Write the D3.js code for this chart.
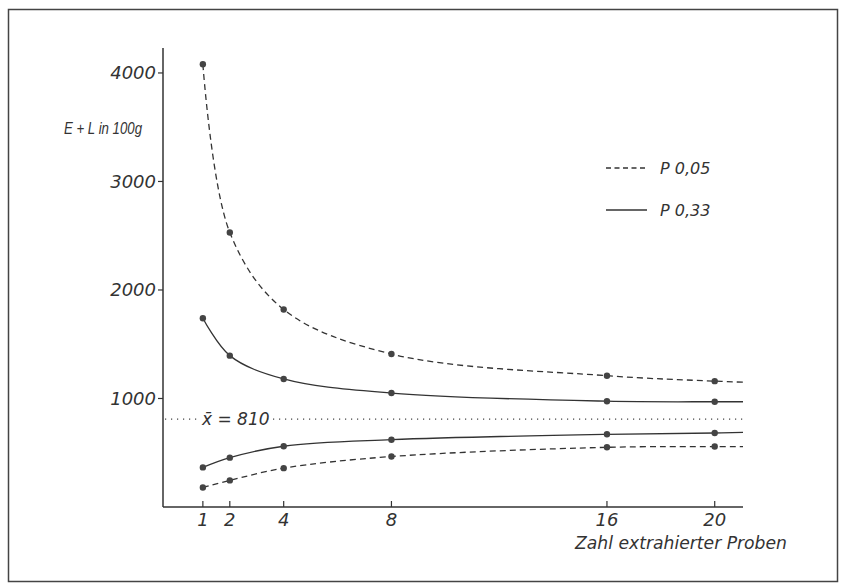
<!DOCTYPE html>
<html>
<head>
<meta charset="utf-8">
<script src="https://cdn.jsdelivr.net/npm/d3@7"></script>
<style>
  body { margin: 0; background: #fff; }
  text { font-family: "DejaVu Sans", sans-serif; font-style: italic; fill: #333; }
</style>
</head>
<body>
<svg width="841" height="584"></svg>
<script>
// sample counts on the x axis
var proben = [1, 2, 4, 8, 16, 20];
// confidence bands (E + L in 100g)
var upper05 = [4080, 2530, 1820, 1410, 1210, 1160];
var upper33 = [1740, 1395, 1180, 1050, 975, 970];
var lower33 = [365, 455, 560, 620, 670, 682];
var lower05 = [180, 245, 358, 465, 550, 557];
// where each curve runs out at the right end of the axis
var endX = 21.05;
var endValues = [1150, 970, 688, 557];
var mean = 810;
var yTicks = [1000, 2000, 3000, 4000];
var legendLabels = ["P 0,05", "P 0,33"];

var svg = d3.select("svg");

// frame
svg.append("rect")
    .attr("x", 8.5).attr("y", 9.5)
    .attr("width", 829).attr("height", 572)
    .attr("fill", "none")
    .attr("stroke", "#444")
    .attr("stroke-width", 1.5);

var x = d3.scaleLinear().domain([-0.48, 21.05]).range([163, 743]);
var y = d3.scaleLinear().domain([0, 4230]).range([507, 48]);

// axes
svg.append("line")
    .attr("x1", x(-0.48)).attr("x2", x(-0.48))
    .attr("y1", y(0)).attr("y2", y(4230))
    .attr("stroke", "#333").attr("stroke-width", 1.5);
svg.append("line")
    .attr("x1", x(-0.48)).attr("x2", x(21.05))
    .attr("y1", y(0)).attr("y2", y(0))
    .attr("stroke", "#333").attr("stroke-width", 1.5);

svg.selectAll("line.ytick")
    .data(yTicks)
    .enter().append("line")
    .attr("class", "ytick")
    .attr("x1", x(-0.48) - 5).attr("x2", x(-0.48))
    .attr("y1", function(d) { return y(d); })
    .attr("y2", function(d) { return y(d); })
    .attr("stroke", "#333").attr("stroke-width", 1.2);

svg.selectAll("text.ylab")
    .data(yTicks)
    .enter().append("text")
    .attr("class", "ylab")
    .attr("x", x(-0.48) - 7)
    .attr("y", function(d) { return y(d); })
    .attr("dy", "0.36em")
    .attr("text-anchor", "end")
    .style("font-size", "18px")
    .text(function(d) { return d; });

svg.selectAll("line.xtick")
    .data(proben)
    .enter().append("line")
    .attr("class", "xtick")
    .attr("x1", function(d) { return x(d); })
    .attr("x2", function(d) { return x(d); })
    .attr("y1", y(0) - 6).attr("y2", y(0))
    .attr("stroke", "#333").attr("stroke-width", 1.2);

svg.selectAll("text.xlab")
    .data(proben)
    .enter().append("text")
    .attr("class", "xlab")
    .attr("x", function(d) { return x(d); })
    .attr("y", 526)
    .attr("text-anchor", "middle")
    .style("font-size", "18px")
    .text(function(d) { return d; });

svg.append("text")
    .attr("x", 575).attr("y", 549)
    .attr("textLength", 212)
    .attr("lengthAdjust", "spacingAndGlyphs")
    .style("font-size", "18px")
    .text("Zahl extrahierter Proben");

svg.append("text")
    .attr("x", 64).attr("y", 134)
    .attr("textLength", 78)
    .attr("lengthAdjust", "spacingAndGlyphs")
    .style("font-family", "'Liberation Sans', sans-serif")
    .style("font-size", "16px")
    .text("E + L in 100g");

// mean line
svg.append("line")
    .attr("x1", 165).attr("x2", x(21.05))
    .attr("y1", y(mean)).attr("y2", y(mean))
    .attr("stroke", "#444")
    .attr("stroke-width", 1.2)
    .attr("stroke-dasharray", "1.2,4.8");

var meanLabel = svg.append("g");
meanLabel.append("rect")
    .attr("x", 197).attr("y", y(mean) - 9)
    .attr("width", 70).attr("height", 18)
    .attr("fill", "#fff");
meanLabel.append("text")
    .attr("x", 202).attr("y", y(mean))
    .attr("dy", "0.36em")
    .style("font-size", "17px")
    .text("x\u0304 = " + mean);

// curves
var series = [
    { values: upper05, end: endValues[0], dash: "6,4" },
    { values: upper33, end: endValues[1], dash: null },
    { values: lower33, end: endValues[2], dash: null },
    { values: lower05, end: endValues[3], dash: "6,4" }
];

var line = d3.line()
    .x(function(d) { return x(d[0]); })
    .y(function(d) { return y(d[1]); })
    .curve(d3.curveCatmullRom.alpha(0.5));

series.forEach(function(s) {
    var pts = proben.map(function(p, i) { return [p, s.values[i]]; });
    pts.push([endX, s.end]);
    svg.append("path")
        .attr("d", line(pts))
        .attr("fill", "none")
        .attr("stroke", "#333")
        .attr("stroke-width", 1.3)
        .attr("stroke-dasharray", s.dash);
    svg.selectAll(null)
        .data(pts.slice(0, proben.length))
        .enter().append("circle")
        .attr("cx", function(d) { return x(d[0]); })
        .attr("cy", function(d) { return y(d[1]); })
        .attr("r", 3.2)
        .attr("fill", "#444");
});

// legend
var legend = svg.append("g");
legendLabels.forEach(function(lab, i) {
    var ly = 168 + i * 42;
    legend.append("line")
        .attr("x1", 606).attr("x2", 647)
        .attr("y1", ly).attr("y2", ly)
        .attr("stroke", "#333")
        .attr("stroke-width", 1.3)
        .attr("stroke-dasharray", i === 0 ? "5,3.5" : null);
    legend.append("text")
        .attr("x", 660).attr("y", ly)
        .attr("dy", "0.36em")
        .style("font-size", "16px")
        .text(lab);
});
</script>
</body>
</html>
